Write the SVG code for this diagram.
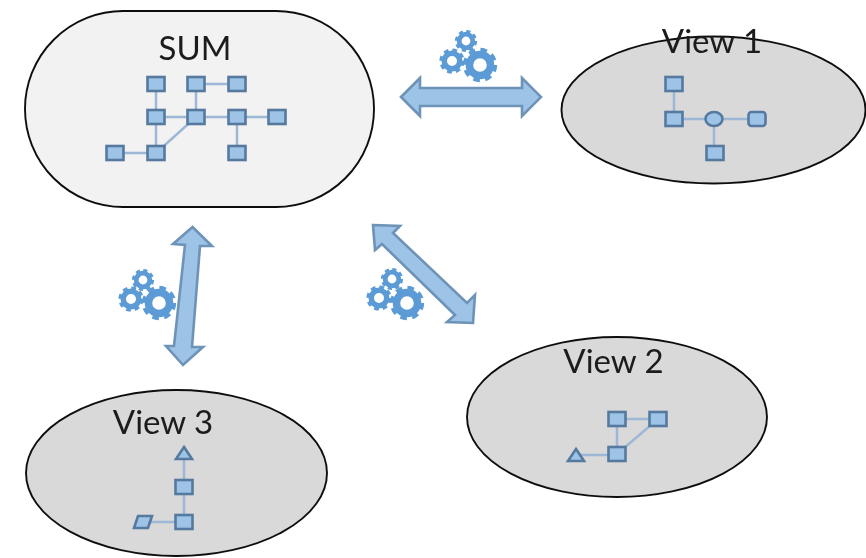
<svg xmlns="http://www.w3.org/2000/svg" width="866" height="558" viewBox="0 0 866 558">
<style>
.blob{stroke:#111;stroke-width:1.9}
.sum{fill:#f2f2f2}
.view{fill:#d9d9d9}
.t{font-family:"Lato","Open Sans","Liberation Sans",sans-serif;font-size:33px;fill:#1a1a1a;text-anchor:middle}
.n{fill:#9dc3e6;stroke:#55799f;stroke-width:2.600}
.l{stroke:#9db8d6;stroke-width:2.500;fill:none}
.a{fill:#9dc3e6;stroke:#6d93b8;stroke-width:2.600;stroke-linejoin:miter}
.g{fill:none;stroke:#5b9bd5}
</style>
<defs>
<filter id="soft" x="-2%" y="-2%" width="104%" height="104%"><feGaussianBlur stdDeviation="0.65"/></filter>
<rect id="sq" class="n" x="-8.500" y="-7" width="17" height="14"/>
<g id="gear">
<circle class="g" r="0.62" stroke-width="0.44"/>
<circle class="g" r="0.88" stroke-width="0.26" stroke-dasharray="0.38 0.311"/>
</g>
</defs>
<rect width="866" height="558" fill="#fff"/>
<g filter="url(#soft)">
<g id="sum">
<rect class="blob sum" x="25" y="11" width="349" height="196" rx="98" ry="98"/>
<text class="t" x="195" y="60">SUM</text>
<path class="l" d="M156 84V153M115 153H156M156 117H277M196 84V117M196 84H237M237 117V153M156 153L196 117"/>
<use href="#sq" x="156" y="84"/><use href="#sq" x="196" y="84"/><use href="#sq" x="237" y="84"/>
<use href="#sq" x="156" y="117"/><use href="#sq" x="196" y="117"/><use href="#sq" x="237" y="117"/><use href="#sq" x="277" y="117"/>
<use href="#sq" x="115" y="153"/><use href="#sq" x="156" y="153"/><use href="#sq" x="237" y="153"/>
</g>
<g id="view1">
<ellipse class="blob view" cx="713.500" cy="110" rx="152" ry="73.500"/>
<text class="t" x="712" y="53">View 1</text>
<path class="l" d="M674 84V119H757M714 119V153"/>
<use href="#sq" x="674" y="84"/><use href="#sq" x="674" y="119"/>
<ellipse class="n" cx="714" cy="119" rx="8.500" ry="7"/>
<rect class="n" x="748.500" y="112" width="17" height="14" rx="3"/>
<use href="#sq" x="715" y="153"/>
</g>
<g id="view2">
<ellipse class="blob view" cx="617" cy="417" rx="150" ry="80"/>
<text class="t" x="613.500" y="373">View 2</text>
<path class="l" d="M576 455H617V419H658L617 454"/>
<use href="#sq" x="617" y="419"/><use href="#sq" x="658" y="419"/><use href="#sq" x="617" y="454"/>
<path class="n" d="M576 449L584 461H568Z"/>
</g>
<g id="view3">
<ellipse class="blob view" cx="176.500" cy="473" rx="150.500" ry="83"/>
<text class="t" x="163" y="434">View 3</text>
<path class="l" d="M184 453V522H143"/>
<path class="n" d="M184 447L192 459H176Z"/>
<use href="#sq" x="184" y="487"/><use href="#sq" x="184" y="522"/>
<path class="n" d="M138 516H152L148 528H134Z"/>
</g>
<g id="connectors">
<path class="a" d="M401 97L420 78V88H522V78L541 97L522 116V106H420V116Z"/>
<path class="a" d="M192.500 227L212 246L200 246L192 347L203 347L183 365L166 346L174 346L185 245L173 244Z"/>
<path class="a" d="M373 225L400 226L393 233L467 303L475 295L473 323L447 322L455 315L382 244L375 250Z"/>
</g>
<g id="gears-top">
<use href="#gear" transform="translate(466 41) scale(11)"/>
<use href="#gear" transform="translate(452 61) scale(12.500)"/>
<use href="#gear" transform="translate(480 65) scale(17)"/>
</g>
<g id="gears-left">
<use href="#gear" transform="translate(143 280) scale(11)"/>
<use href="#gear" transform="translate(131 299) scale(12.500)"/>
<use href="#gear" transform="translate(159 303) scale(17)"/>
</g>
<g id="gears-diagonal">
<use href="#gear" transform="translate(392 279) scale(11)"/>
<use href="#gear" transform="translate(379 298) scale(12.500)"/>
<use href="#gear" transform="translate(407 303) scale(17)"/>
</g>
</g>
</svg>
